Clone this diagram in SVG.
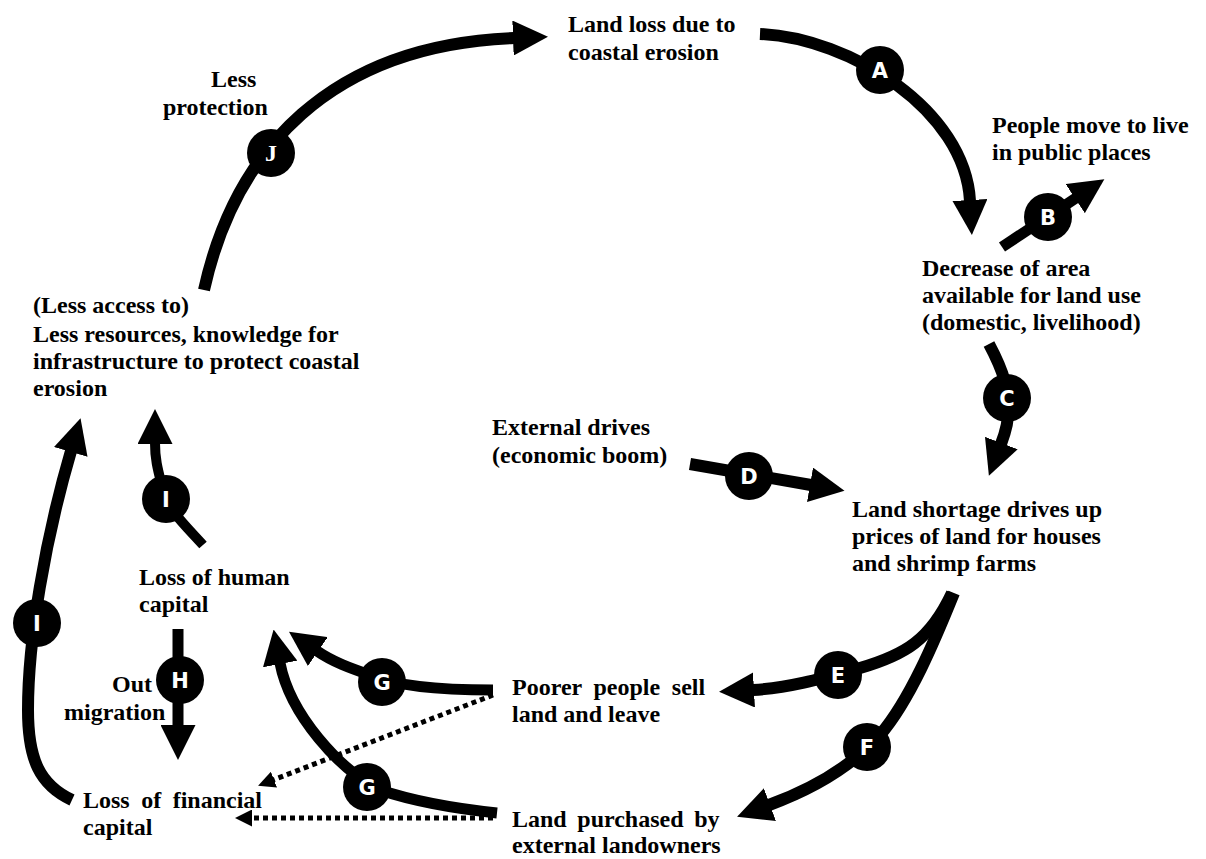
<svg xmlns="http://www.w3.org/2000/svg" width="1206" height="859" viewBox="0 0 1206 859">
  <style>
    .lbl { font-family: "Liberation Serif", "Times New Roman", serif; font-weight: bold; font-size: 24px; fill: #000; }
    .flow { fill: none; stroke: #000; stroke-width: 12; marker-end: url(#head); }
    .thin { stroke-width: 10; }
    .dots { fill: none; stroke: #000; stroke-width: 5; stroke-dasharray: 5 4; marker-end: url(#small); }
    .badge { fill: #000; }
    .tag { font-family: "DejaVu Sans", "Liberation Sans", sans-serif; font-weight: bold; font-size: 21px; fill: #fff; text-anchor: middle; }
    .tag-serif { font-family: "Liberation Serif", serif; font-weight: bold; font-size: 24px; fill: #fff; text-anchor: middle; }
  </style>
  <defs>
    <marker id="head" markerUnits="userSpaceOnUse" viewBox="0 0 35 35" markerWidth="35" markerHeight="35" refX="1" refY="17.5" orient="auto">
      <path d="M0,0 L35,17.5 L0,35 Z" fill="#000"/>
    </marker>
    <marker id="small" markerUnits="userSpaceOnUse" viewBox="0 0 17 17" markerWidth="17" markerHeight="17" refX="1" refY="8.5" orient="auto">
      <path d="M0,0 L17,8.5 L0,17 Z" fill="#000"/>
    </marker>
  </defs>
  <rect width="1206" height="859" fill="#fff"/>

  <!-- connectors with their letter badges -->
  <g id="connectors">
    <g id="link-J">
      <path class="flow" d="M204,290 C235,150 330,45 514,38"/>
      <circle class="badge" cx="271" cy="153" r="24"/>
      <text class="tag-serif" x="271" y="161">J</text>
    </g>
    <g id="link-A">
      <path class="flow" d="M760,34 C850,38 965,110 970,201"/>
      <circle class="badge" cx="880" cy="70" r="24"/>
      <text class="tag" x="880" y="78">A</text>
    </g>
    <g id="link-B">
      <path class="flow" style="stroke-width:11" d="M1002,247 L1076,198"/>
      <circle class="badge" cx="1048" cy="217" r="24"/>
      <text class="tag" x="1048" y="225">B</text>
    </g>
    <g id="link-C">
      <path class="flow" d="M989,344 C1004,372 1010,395 1008,410 Q1009,423 1001,444"/>
      <circle class="badge" cx="1007" cy="398" r="24"/>
      <text class="tag" x="1007" y="406">C</text>
    </g>
    <g id="link-D">
      <path class="flow" d="M690,464 L811,485"/>
      <circle class="badge" cx="749" cy="476" r="24"/>
      <text class="tag" x="749" y="484">D</text>
    </g>
    <g id="link-E">
      <path class="flow" d="M952,593 C930,640 905,655 860,668 C824,678 790,688 753,690"/>
      <circle class="badge" cx="838" cy="675" r="24"/>
      <text class="tag" x="838" y="683">E</text>
    </g>
    <g id="link-F">
      <path class="flow" d="M954,593 C935,640 910,700 880,735 C850,768 810,790 769,805"/>
      <circle class="badge" cx="867" cy="747" r="24"/>
      <text class="tag" x="867" y="755">F</text>
    </g>
    <g id="link-G-sell">
      <path class="flow" style="stroke-width:11" d="M493,690 C450,690 400,688 370,675 C350,668 333,662 317,651"/>
      <circle class="badge" cx="382" cy="682" r="24"/>
      <text class="tag" x="382" y="690">G</text>
    </g>
    <g id="link-G-purchase">
      <path class="flow" style="stroke-width:11" d="M497,813 C450,808 410,800 380,790 C340,770 290,715 280,663"/>
      <circle class="badge" cx="367" cy="787" r="24"/>
      <text class="tag" x="367" y="795">G</text>
    </g>
    <g id="link-H">
      <path class="flow" style="stroke-width:11" d="M178,629 L178,726"/>
      <circle class="badge" cx="180" cy="680" r="24"/>
      <text class="tag" x="180" y="688">H</text>
    </g>
    <g id="link-I-human">
      <path class="flow thin" d="M203,545 C185,525 168,510 163,490 C158,470 155,460 155,443"/>
      <circle class="badge" cx="166" cy="499" r="24"/>
      <text class="tag" x="166" y="507">I</text>
    </g>
    <g id="link-I-financial">
      <path class="flow" d="M72,800 C40,785 28,760 28,710 C28,640 45,540 71,451"/>
      <circle class="badge" cx="37" cy="623" r="24"/>
      <text class="tag" x="37" y="631">I</text>
    </g>
    <g id="link-sell-financial">
      <path class="dots" d="M493,695 L273,780"/>
    </g>
    <g id="link-purchase-financial">
      <path class="dots" d="M493,818 L251,818"/>
    </g>
  </g>

  <!-- nodes -->
  <g id="node-land-loss">
    <text class="lbl" x="568" y="32">Land loss due to</text>
    <text class="lbl" x="568" y="60">coastal erosion</text>
  </g>
  <g id="node-less-protection">
    <text class="lbl" x="211" y="87">Less</text>
    <text class="lbl" x="163" y="115">protection</text>
  </g>
  <g id="node-public-places">
    <text class="lbl" x="992" y="133">People move to live</text>
    <text class="lbl" x="992" y="160">in public places</text>
  </g>
  <g id="node-decrease-area">
    <text class="lbl" x="922" y="276">Decrease of area</text>
    <text class="lbl" x="922" y="303">available for land use</text>
    <text class="lbl" x="922" y="330">(domestic, livelihood)</text>
  </g>
  <g id="node-less-resources">
    <text class="lbl" x="33" y="313">(Less access to)</text>
    <text class="lbl" x="33" y="342">Less resources, knowledge for</text>
    <text class="lbl" x="33" y="369">infrastructure to protect coastal</text>
    <text class="lbl" x="33" y="396">erosion</text>
  </g>
  <g id="node-external-drives">
    <text class="lbl" x="492" y="435">External drives</text>
    <text class="lbl" x="492" y="463">(economic boom)</text>
  </g>
  <g id="node-land-shortage">
    <text class="lbl" x="852" y="517">Land shortage drives up</text>
    <text class="lbl" x="852" y="544">prices of land for houses</text>
    <text class="lbl" x="852" y="571">and shrimp farms</text>
  </g>
  <g id="node-human-capital">
    <text class="lbl" x="139" y="585">Loss of human</text>
    <text class="lbl" x="139" y="612">capital</text>
  </g>
  <g id="node-out-migration">
    <text class="lbl" x="112" y="692">Out</text>
    <text class="lbl" x="64" y="720">migration</text>
  </g>
  <g id="node-poorer-sell">
    <text class="lbl" x="512" y="695" word-spacing="5.7">Poorer people sell</text>
    <text class="lbl" x="512" y="722">land and leave</text>
  </g>
  <g id="node-financial-capital">
    <text class="lbl" x="83" y="808" word-spacing="5.5">Loss of financial</text>
    <text class="lbl" x="83" y="835">capital</text>
  </g>
  <g id="node-land-purchased">
    <text class="lbl" x="512" y="827" word-spacing="4.6">Land purchased by</text>
    <text class="lbl" x="512" y="853">external landowners</text>
  </g>
</svg>
